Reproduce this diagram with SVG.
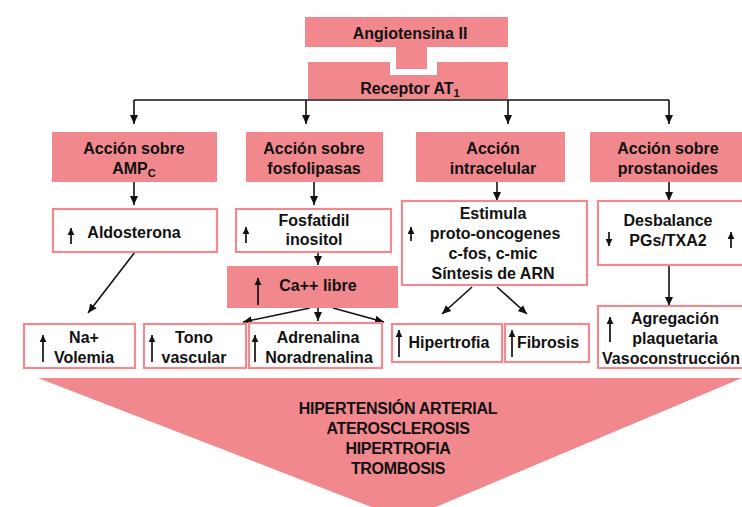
<svg xmlns="http://www.w3.org/2000/svg" width="742" height="507" viewBox="0 0 742 507">
<defs>
<marker id="ah" markerUnits="userSpaceOnUse" markerWidth="10" markerHeight="10" viewBox="0 0 10 10" refX="9" refY="5" orient="auto"><path d="M0,1 L9,5 L0,9 Z" fill="#111"/></marker>
<marker id="uh" markerUnits="userSpaceOnUse" markerWidth="8" markerHeight="8" viewBox="0 0 8 8" refX="7" refY="4" orient="auto"><path d="M0,0.6 L7,4 L0,7.4 Z" fill="#111"/></marker>
</defs>
<style>
.pk{fill:#F0888E}
.wb{fill:#fff;stroke:#EF8A90;stroke-width:2.2}
text{font-family:"Liberation Sans",Arial,sans-serif;font-weight:bold;font-size:16px;fill:#111;text-anchor:middle}
.big{font-size:16px;letter-spacing:-0.3px}
.c{stroke:#111;stroke-width:1.6;fill:none;marker-end:url(#ah)}
.u{stroke:#111;stroke-width:1.7;fill:none;marker-end:url(#uh)}
</style>
<rect width="742" height="507" fill="#fff"/>

<g id="bottom">
<path class="pk" d="M38,378 H742 L405,520 Z"/>
<text x="398" y="414" class="big">HIPERTENSIÓN ARTERIAL</text>
<text x="398" y="434" class="big">ATEROSCLEROSIS</text>
<text x="398" y="454" class="big">HIPERTROFIA</text>
<text x="398" y="474" class="big">TROMBOSIS</text>
</g>

<g id="angiotensina">
<path class="pk" d="M305,17 H508 V47 H427 V69 H396 V47 H305 Z"/>
<text x="410" y="39">Angiotensina II</text>
</g>
<g id="receptor">
<path class="pk" d="M308,62 H390 V75 H437 V62 H508 V99 H308 Z"/>
<text x="410" y="94">Receptor AT<tspan font-size="11" dy="3">1</tspan></text>
</g>

<g id="connectors">
<path d="M134,100 H669" stroke="#111" stroke-width="1.6" fill="none"/>
<path class="c" d="M134,100 V124"/>
<path class="c" d="M306,100 V124"/>
<path class="c" d="M508,100 V124"/>
<path class="c" d="M669,100 V124"/>
<path class="c" d="M134,182 V205"/>
<path class="c" d="M314,182 V205"/>
<path class="c" d="M497,182 V201"/>
<path class="c" d="M669,182 V201"/>
<path class="c" d="M135,252 L88,313"/>
<path class="c" d="M318,252 V265"/>
<path class="c" d="M318,308 V321"/>
<path class="c" d="M310,308 L243,322"/>
<path class="c" d="M333,308 L384,322"/>
<path class="c" d="M472,287 L442,314"/>
<path class="c" d="M497,287 L527,314"/>
<path class="c" d="M669,265 V306" stroke-width="2.2"/>
</g>

<g id="accion-amp">
<rect class="pk" x="52" y="132" width="165" height="50"/>
<text x="134" y="154">Acción sobre</text>
<text x="134" y="174">AMP<tspan font-size="11" dy="3">C</tspan></text>
</g>
<g id="accion-fosfo">
<rect class="pk" x="246" y="132" width="137" height="50"/>
<text x="314" y="154">Acción sobre</text>
<text x="314" y="174">fosfolipasas</text>
</g>
<g id="accion-intra">
<rect class="pk" x="416" y="132" width="149" height="50"/>
<text x="493" y="154">Acción</text>
<text x="493" y="174">intracelular</text>
</g>
<g id="accion-prost">
<rect class="pk" x="590" y="132" width="152" height="50"/>
<text x="668" y="154">Acción sobre</text>
<text x="668" y="174">prostanoides</text>
</g>

<g id="aldosterona">
<rect class="wb" x="53" y="209" width="164" height="43"/>
<path class="u" d="M71,244 V228"/>
<text x="134" y="238">Aldosterona</text>
</g>
<g id="fosfatidil">
<rect class="wb" x="236" y="209" width="155" height="43"/>
<path class="u" d="M246,243 V227"/>
<text x="314" y="226">Fosfatidil</text>
<text x="314" y="245">inositol</text>
</g>
<g id="ca-libre">
<rect class="pk" x="227" y="266" width="171" height="42"/>
<path class="u" d="M258,305 V278"/>
<text x="318" y="291">Ca++ libre</text>
</g>
<g id="estimula">
<rect class="wb" x="402" y="201" width="185" height="84"/>
<path class="u" d="M411,241 V227"/>
<text x="493" y="219">Estimula</text>
<text x="495" y="239">proto-oncogenes</text>
<text x="493" y="259">c-fos, c-mic</text>
<text x="493" y="279">Síntesis de ARN</text>
</g>
<g id="desbalance">
<rect class="wb" x="598" y="201" width="150" height="64"/>
<path class="u" d="M609,232 V246"/>
<path class="u" d="M731,248 V232"/>
<text x="668" y="226">Desbalance</text>
<text x="668" y="246">PGs/TXA2</text>
</g>

<g id="volemia">
<rect class="wb" x="24" y="324" width="111" height="44"/>
<path class="u" d="M43,362 V335"/>
<text x="84" y="343">Na+</text>
<text x="84" y="363">Volemia</text>
</g>
<g id="tono">
<rect class="wb" x="144" y="324" width="102" height="44"/>
<path class="u" d="M152,362 V335"/>
<text x="194" y="343">Tono</text>
<text x="194" y="363">vascular</text>
</g>
<g id="adrenalina">
<rect class="wb" x="249" y="323" width="133" height="45"/>
<path class="u" d="M255,362 V335"/>
<text x="318" y="343">Adrenalina</text>
<text x="319" y="363">Noradrenalina</text>
</g>
<g id="hipertrofia">
<rect class="wb" x="392" y="324" width="110" height="38"/>
<path class="u" d="M399,357 V330"/>
<text x="449" y="348">Hipertrofia</text>
</g>
<g id="fibrosis">
<rect class="wb" x="505" y="324" width="84" height="38"/>
<path class="u" d="M512,357 V330"/>
<text x="548" y="348">Fibrosis</text>
</g>
<g id="agregacion">
<rect class="wb" x="598" y="306" width="150" height="62"/>
<path class="u" d="M610,342 V317"/>
<text x="675" y="324">Agregación</text>
<text x="675" y="344">plaquetaria</text>
<text x="671" y="364" font-size="15">Vasoconstrucción</text>
</g>
</svg>
